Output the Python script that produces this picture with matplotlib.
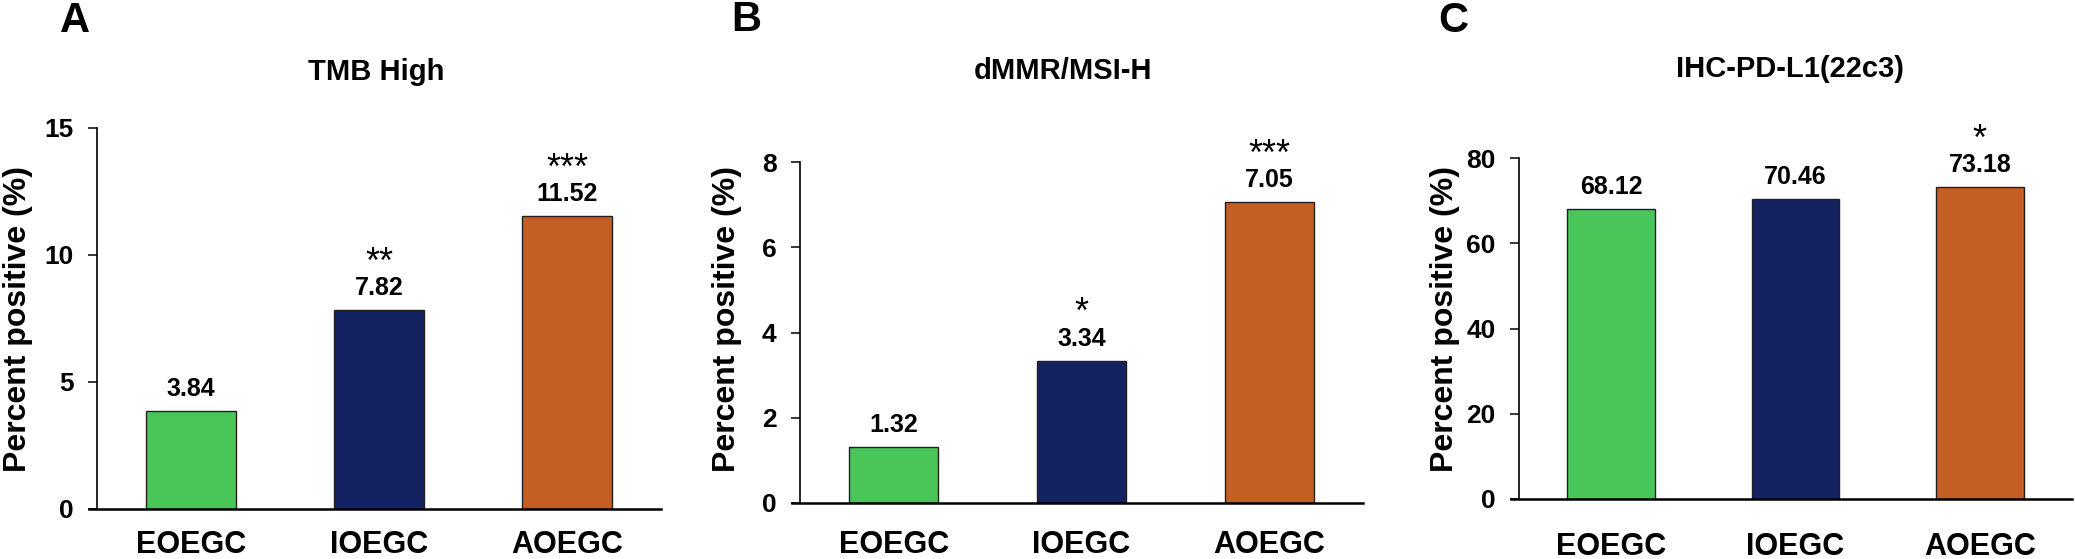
import matplotlib.pyplot as plt

categories = ['EOEGC', 'IOEGC', 'AOEGC']
colors = ['#48c65a', '#152262', '#c45e22']

panel_letters = ['A', 'B', 'C']
titles = ['TMB High', 'dMMR/MSI-H', 'IHC-PD-L1(22c3)']
tmb_high = [3.84, 7.82, 11.52]
dmmr_msi = [1.32, 3.34, 7.05]
pd_l1 = [68.12, 70.46, 73.18]
stars_tmb = ['', '**', '***']
stars_dmmr = ['', '*', '***']
stars_pdl1 = ['', '', '*']
y_max = [15, 8, 80]
y_ticks = [[0, 5, 10, 15], [0, 2, 4, 6, 8], [0, 20, 40, 60, 80]]

plt.rcParams['font.family'] = ['Liberation Sans', 'DejaVu Sans']
NARROW = ['Liberation Sans Narrow', 'Liberation Sans', 'DejaVu Sans']


def plot():
    W, H = 2075, 559
    fig = plt.figure(figsize=(W / 100, H / 100), dpi=100)
    # pixel boxes: left, right, top (y of ymax), bottom (y of 0)
    boxes = [(97, 661, 127.7, 509), (800, 1363, 162, 503), (1519, 2072, 158.3, 499)]
    title_pos = [(376, 72), (1063, 71), (1790, 69)]
    letter_pos = [(75, 21), (746, 20), (1453, 21)]
    ylabel_x = [18, 727, 1445]
    xlab_pad = [15, 19.5, 23.5]
    data = [tmb_high, dmmr_msi, pd_l1]
    stars = [stars_tmb, stars_dmmr, stars_pdl1]

    for i in range(3):
        l, r, t, b = boxes[i]
        ax = fig.add_axes([l / W, 1 - b / H, (r - l) / W, (b - t) / H])
        x = list(range(len(categories)))
        ax.bar(x, data[i], width=0.475, color=colors, edgecolor='#202020', linewidth=1.0)
        ax.set_xlim(-0.5, 2.5)
        ax.set_ylim(0, y_max[i])
        ax.set_yticks(y_ticks[i])
        ax.set_xticks(x)
        ax.set_xticklabels(categories, fontsize=22, fontweight='bold')
        ax.tick_params(axis='x', length=0, pad=xlab_pad[i])
        ax.tick_params(axis='y', length=6.5, width=1.1, pad=10.5)
        for lab in ax.get_yticklabels():
            lab.set_fontweight('bold')
            lab.set_fontsize(19)
            lab.set_family(NARROW)
        for side in ['top', 'right']:
            ax.spines[side].set_visible(False)
        ax.spines['left'].set_linewidth(1.2)
        ax.spines['bottom'].set_linewidth(1.8)
        ax.spines['bottom'].set_bounds(-0.545, 2.5)

        ax.set_ylabel('Percent positive (%)', fontsize=23, fontweight='bold')
        ax.yaxis.set_label_coords(ylabel_x[i] / W, 1 - 319 / H, transform=fig.transFigure)
        ax.yaxis.label.set_va('center')

        for xi, v, s in zip(x, data[i], stars[i]):
            ax.annotate(f'{v:.2f}', (xi, v), xytext=(0, 10.8), textcoords='offset points',
                        ha='center', va='baseline', fontsize=18, fontweight='bold',
                        family=NARROW)
            if s:
                ax.annotate(s, (xi, v), xytext=(0, 27), textcoords='offset points',
                            ha='center', va='baseline', fontsize=26, fontweight='normal')

        fig.text(title_pos[i][0] / W, 1 - title_pos[i][1] / H, titles[i],
                 ha='center', va='center', fontsize=21, fontweight='bold')
        fig.text(letter_pos[i][0] / W, 1 - letter_pos[i][1] / H, panel_letters[i],
                 ha='center', va='center', fontsize=30, fontweight='bold')

    fig.savefig('out.png', dpi=100)


def main():
    plot()


if __name__ == '__main__':
    main()
